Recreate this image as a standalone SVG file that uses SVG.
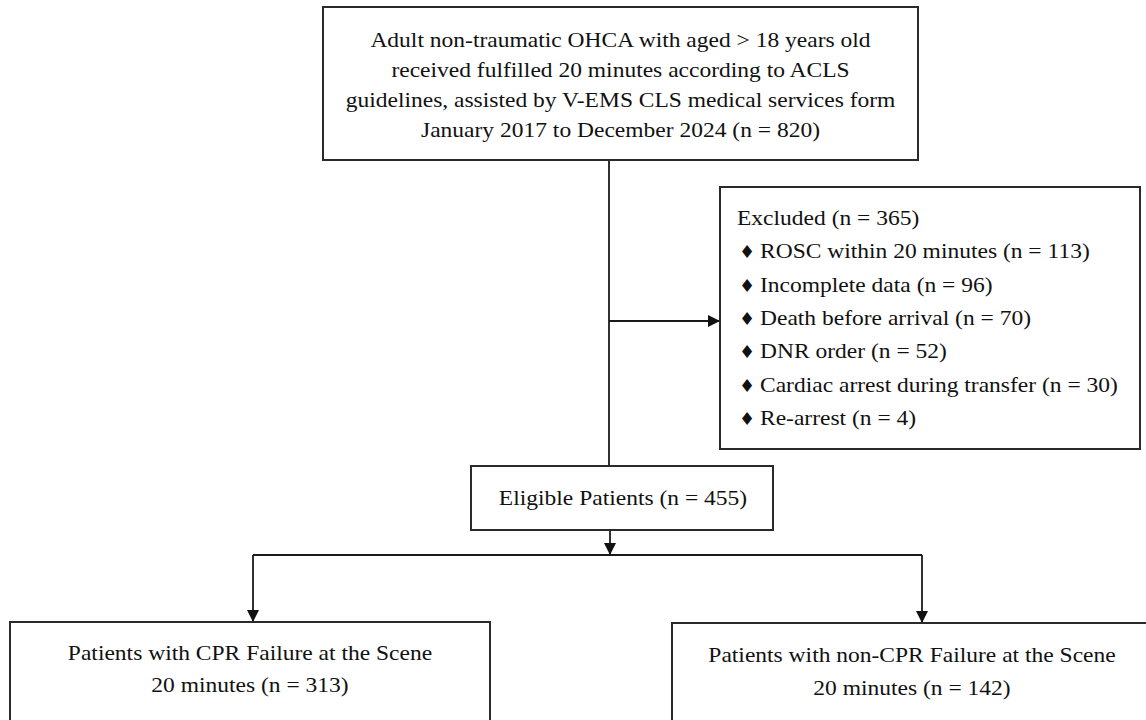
<svg xmlns="http://www.w3.org/2000/svg" width="1146" height="720" viewBox="0 0 1146 720">
<style>
.box{fill:#fff;stroke:#2a2a2a;stroke-width:2}
.ln{fill:none;stroke:#1a1a1a;stroke-width:1.8}
.t{font-family:"Liberation Serif","Times New Roman",serif;font-size:21px;fill:#111}
.c{text-anchor:middle}
.d{font-family:"DejaVu Sans",sans-serif;font-size:18px;fill:#111}
</style>
<defs>
<marker id="ah" viewBox="0 0 12 12" refX="12" refY="6" markerWidth="12" markerHeight="12" markerUnits="userSpaceOnUse" orient="auto">
<path d="M0,0 L12,6 L0,12 Z" fill="#111"/>
</marker>
</defs>
<rect width="1146" height="720" fill="#fff"/>
<g id="connectors">
<line class="ln" x1="609" y1="160" x2="609" y2="466"/>
<line class="ln" x1="609" y1="321" x2="720" y2="321" marker-end="url(#ah)"/>
<line class="ln" x1="610" y1="530" x2="610" y2="555" marker-end="url(#ah)"/>
<line class="ln" x1="253" y1="555" x2="922" y2="555"/>
<line class="ln" x1="253" y1="555" x2="253" y2="622" marker-end="url(#ah)"/>
<line class="ln" x1="922" y1="555" x2="922" y2="623" marker-end="url(#ah)"/>
</g>
<g id="top">
<rect class="box" x="323" y="7" width="595" height="153"/>
<g transform="matrix(1.12 0 0 1 620.5 0)">
<text class="t c" x="0" y="47">Adult non-traumatic OHCA with aged &gt; 18 years old</text>
<text class="t c" x="0" y="77">received fulfilled 20 minutes according to ACLS</text>
<text class="t c" x="0" y="107">guidelines, assisted by V-EMS CLS medical services form</text>
<text class="t c" x="0" y="137">January 2017 to December 2024 (n = 820)</text>
</g>
</g>
<g id="excluded">
<rect class="box" x="720" y="187" width="420" height="262"/>
<g transform="matrix(1.12 0 0 1 737 0)">
<text class="t" x="0" y="225">Excluded (n = 365)</text>
</g>
<g>
<text class="d" x="739" y="258">♦</text>
<text class="d" x="739" y="292">♦</text>
<text class="d" x="739" y="325">♦</text>
<text class="d" x="739" y="358">♦</text>
<text class="d" x="739" y="392">♦</text>
<text class="d" x="739" y="425">♦</text>
</g>
<g transform="matrix(1.12 0 0 1 760 0)">
<text class="t" x="0" y="258">ROSC within 20 minutes (n = 113)</text>
<text class="t" x="0" y="292">Incomplete data (n = 96)</text>
<text class="t" x="0" y="325">Death before arrival (n = 70)</text>
<text class="t" x="0" y="358">DNR order (n = 52)</text>
<text class="t" x="0" y="392">Cardiac arrest during transfer (n = 30)</text>
<text class="t" x="0" y="425">Re-arrest (n = 4)</text>
</g>
</g>
<g id="eligible">
<rect class="box" x="471" y="466" width="302" height="64"/>
<g transform="matrix(1.12 0 0 1 623 0)">
<text class="t c" x="0" y="505">Eligible Patients (n = 455)</text>
</g>
</g>
<g id="cpr-failure">
<rect class="box" x="10" y="622" width="480" height="110"/>
<g transform="matrix(1.12 0 0 1 250 0)">
<text class="t c" x="0" y="660">Patients with CPR Failure at the Scene</text>
<text class="t c" x="0" y="692">20 minutes (n = 313)</text>
</g>
</g>
<g id="non-cpr-failure">
<rect class="box" x="672" y="623" width="490" height="110"/>
<g transform="matrix(1.12 0 0 1 912 0)">
<text class="t c" x="0" y="662">Patients with non-CPR Failure at the Scene</text>
<text class="t c" x="0" y="695">20 minutes (n = 142)</text>
</g>
</g>
</svg>
